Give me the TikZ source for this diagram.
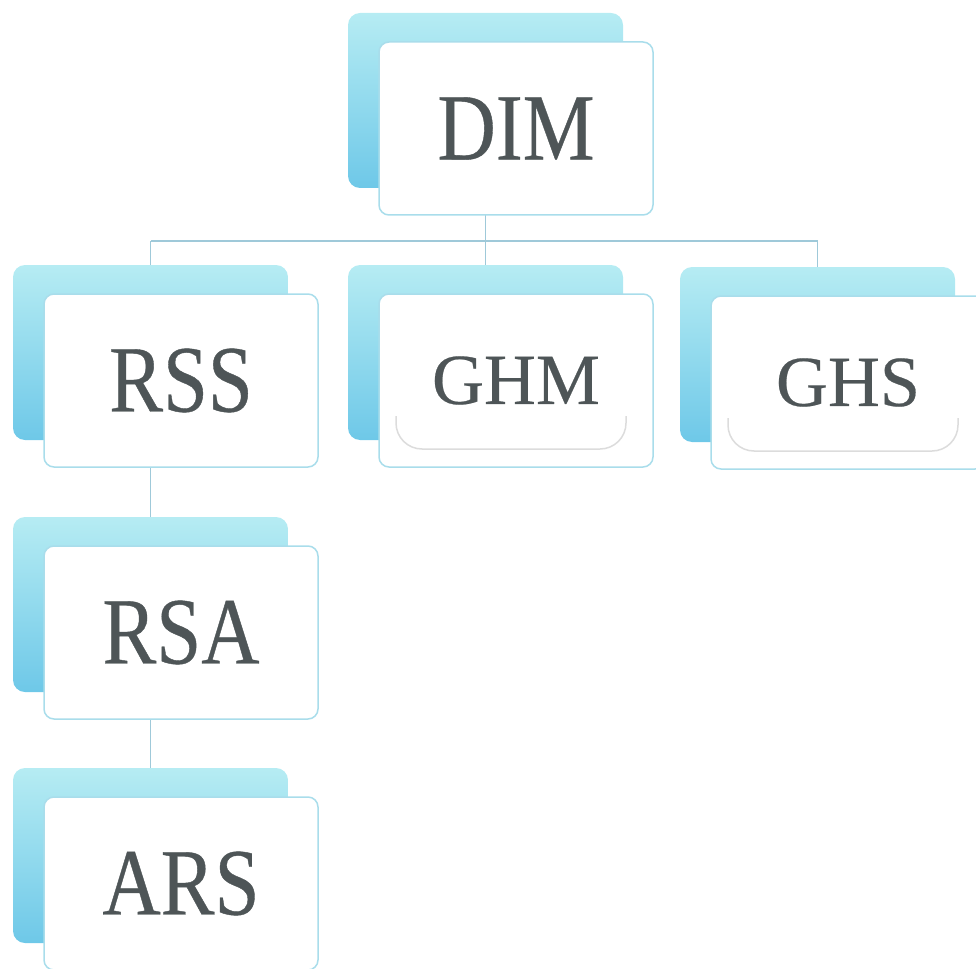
\documentclass[tikz,border=0pt]{standalone}
\usepackage{fontspec}
\usepackage{xcolor}
\usepackage{tikz}
\usetikzlibrary{calc, positioning, backgrounds}

\newfontfamily\camfont[FakeStretch=0.85, FakeBold=0.4]{Liberation Serif}
\newfontfamily\tnrfont[FakeBold=0.3]{Liberation Serif}
\newcommand{\bigcam}{\camfont\fontsize{95}{95}\selectfont}
\newcommand{\bigtnr}{\tnrfont\fontsize{72}{72}\selectfont}

\definecolor{cardtop}{HTML}{B6ECF3}
\definecolor{cardlow}{HTML}{6EC8E8}
\definecolor{cardrim}{HTML}{A9DDEB}
\definecolor{linkblue}{HTML}{9FC9D9}
\definecolor{inkgray}{HTML}{4E5557}
\definecolor{glaregray}{HTML}{DCDCDC}

\begin{document}
\begin{tikzpicture}[x=1pt, y=-1pt,
    backcard/.style={inner sep=0pt, outer sep=0pt, minimum width=275pt, minimum height=175pt,
        rounded corners=12pt, top color=cardtop, bottom color=cardlow},
    frontcard/.style={inner sep=0pt, outer sep=0pt, minimum width=274pt, minimum height=173pt,
        rounded corners=10pt, draw=cardrim, line width=1.5pt, fill=white, text=inkgray},
    link/.style={draw=linkblue, line width=1.5pt},
    glare/.style={draw=glaregray, line width=1.5pt, rounded corners=26pt}]
    \clip (0,0) rectangle (976,968);
    \coordinate (bus) at (0,241);
    \foreach \n/\x/\y/\f/\t in {dim/348/13/\bigcam/DIM, rss/13/265/\bigcam/RSS, ghm/348/265/\bigtnr/GHM,
        ghs/680/267/\bigtnr/GHS, rsa/13/517/\bigcam/RSA, ars/13/768/\bigcam/ARS} {
        \node[backcard, anchor=north west] (\n-back) at (\x,\y) {};
        \node[frontcard, anchor=north west, font=\f] (\n) at ([shift={(31,29)}]\n-back.north west) {\t};
    }
    \foreach \n in {ghm,ghs} {
        \draw[glare] ($(\n.south west)+(17,-51)$) -- ($(\n.south west)+(17,-18)$) -- ($(\n.south east)+(-27,-18)$) -- ($(\n.south east)+(-27,-51)$);
    }
    \begin{pgfonlayer}{background}
        \draw[link] (dim-back.center) -- (dim-back.center |- bus);
        \draw[link] (rss-back.north |- bus) -- (ghs-back.north |- bus);
        \foreach \n in {rss,ghm,ghs} {
            \draw[link] (\n-back.north |- bus) -- (\n-back.north);
        }
        \draw[link] (rss-back.center) -- (rsa-back.north);
        \draw[link] (rsa-back.center) -- (ars-back.north);
    \end{pgfonlayer}
\end{tikzpicture}
\end{document}
